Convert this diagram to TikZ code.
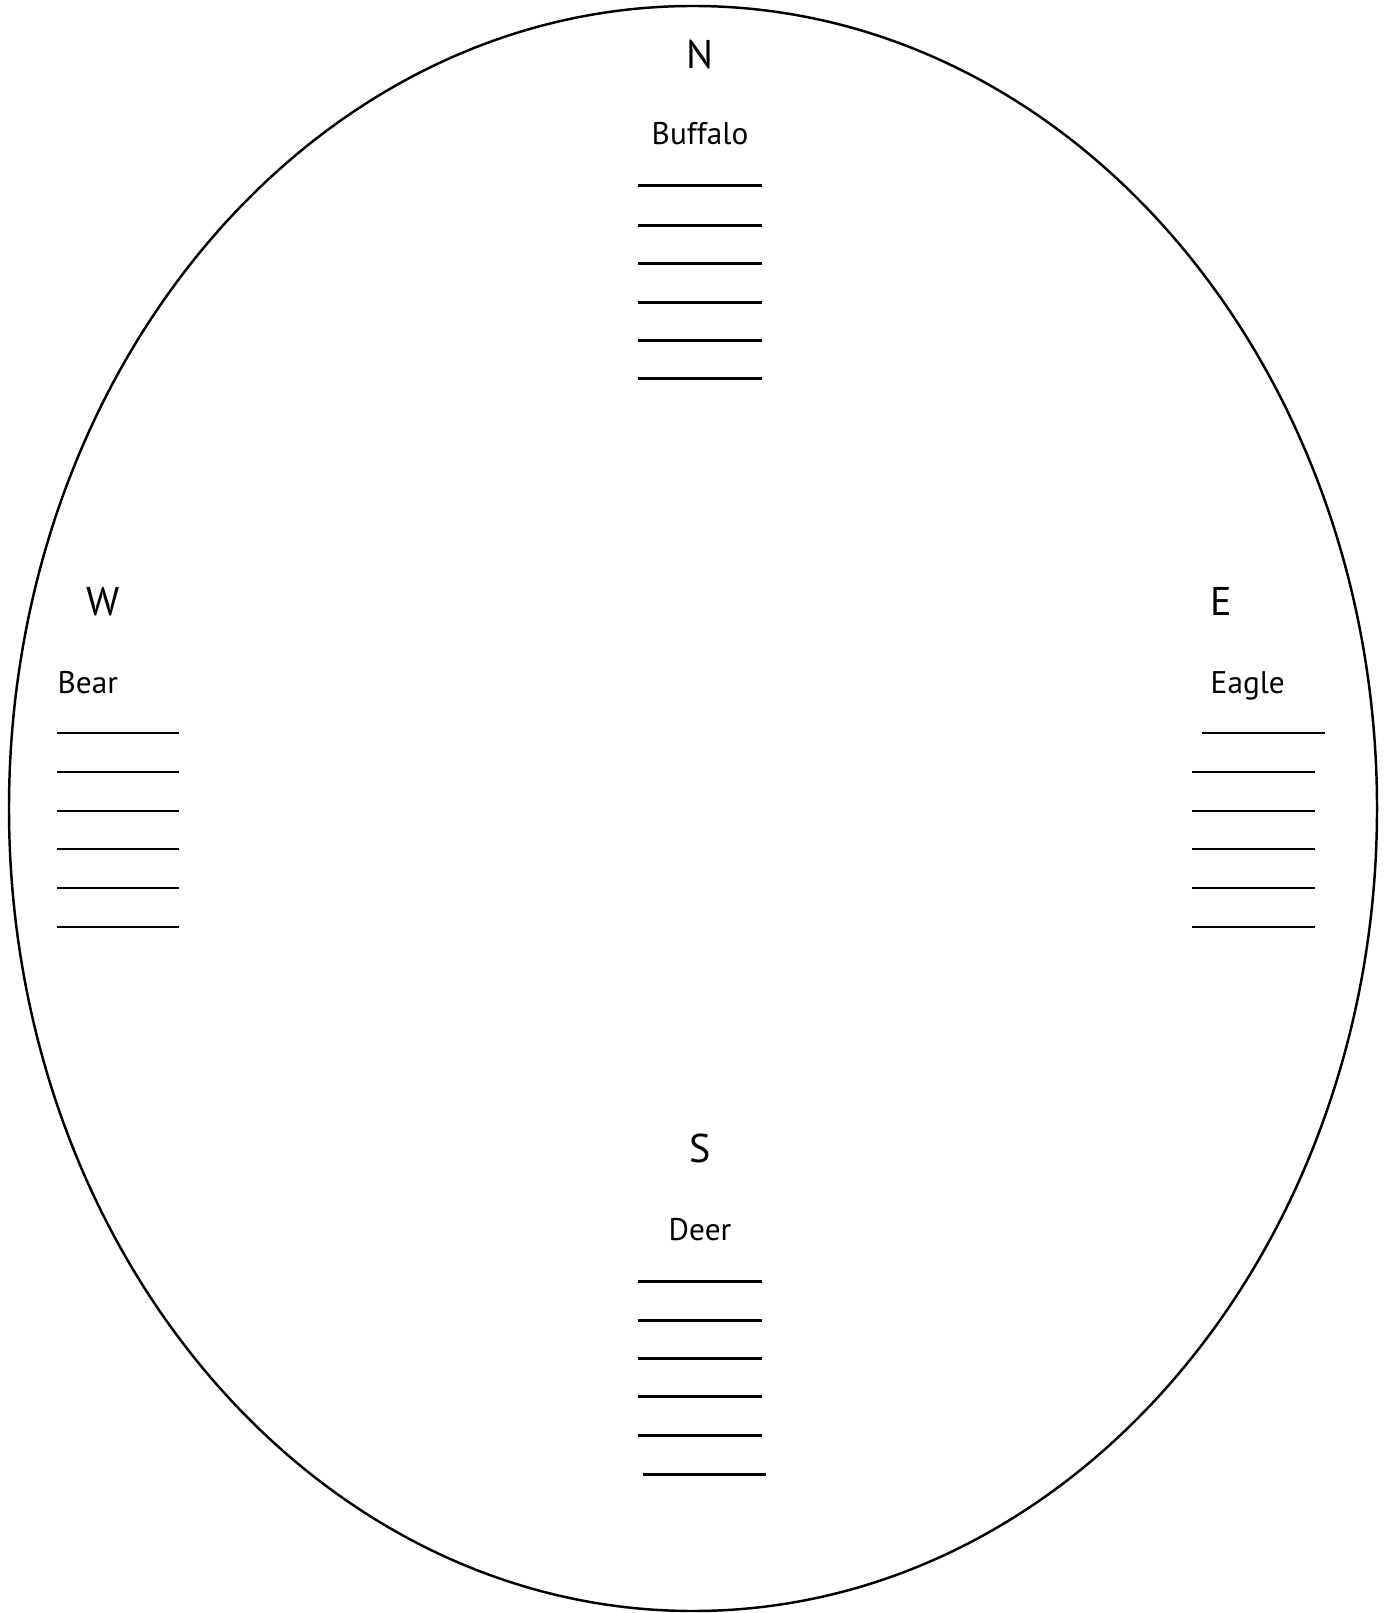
\documentclass[tikz,border=0pt]{standalone}
\usepackage{fontspec}
\setmainfont{PT Sans}
\usepackage{xcolor}
\usepackage{tikz}
\usetikzlibrary{positioning,calc}

\begin{document}
\begin{tikzpicture}[x=0.01cm, y=-0.01cm,
    dir_lbl/.style={inner sep=0pt, font=\fontsize{11.4}{13}\selectfont},
    animal_lbl/.style={inner sep=0pt, anchor=base, font=\fontsize{8.9}{11}\selectfont},
    blank/.style={line width=0.85pt}
]
    \useasboundingbox (0,0) rectangle (1386,1613);

    % Outer wheel
    \draw[line width=0.7pt] (693,808.5) ellipse [x radius=684, y radius=802.5];

    % North
    \node[dir_lbl, anchor=base] (dir_n) at (700,69) {N};
    \node[animal_lbl] (ani_n) at (700,145) {Buffalo};
    \foreach \y in {186,226,264,303,341,379}
        \draw[blank] (638,\y) -- (762,\y);

    % West
    \node[dir_lbl, anchor=base] (dir_w) at (103,616) {W};
    \node[animal_lbl, anchor=base west] (ani_w) at (57,693) {Bear};
    \foreach \y in {733,772,811,849,888,927}
        \draw[blank] (57,\y) -- (179,\y);

    % East
    \node[dir_lbl, anchor=base west] (dir_e) at (1210,616) {E};
    \node[animal_lbl, anchor=base west] (ani_e) at (1210,693) {Eagle};
    \draw[blank] (1202,733) -- (1325,733);
    \foreach \y in {772,811,849,888,927}
        \draw[blank] (1192,\y) -- (1315,\y);

    % South
    \node[dir_lbl, anchor=base] (dir_s) at (700,1162) {S};
    \node[animal_lbl] (ani_s) at (700,1240) {Deer};
    \foreach \y in {1281,1320,1358,1396,1435}
        \draw[blank] (638,\y) -- (762,\y);
    \draw[blank] (643,1474) -- (766,1474);

\end{tikzpicture}
\end{document}
